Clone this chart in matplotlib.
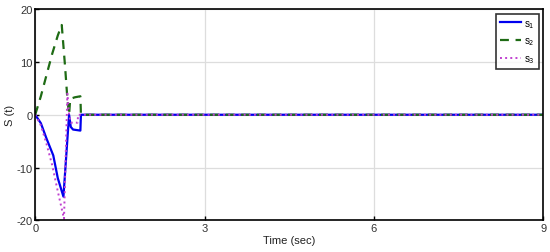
import matplotlib
matplotlib.use('Agg')
import matplotlib.pyplot as plt

plt.rcParams['font.family'] = ['Liberation Sans', 'DejaVu Sans']
plt.rcParams['axes.unicode_minus'] = False

# sliding surfaces
t_s1 = [0, 0.1, 0.2, 0.32, 0.4, 0.5, 0.6, 0.63, 0.67, 0.8, 0.81, 9]
s1 = [0, -1.6, -4.5, -7.7, -12.0, -15.5, 0, -2.3, -2.8, -3.0, 0, 0]

t_s2 = [0, 0.1, 0.2, 0.3, 0.4, 0.47, 0.53, 0.57, 0.6, 0.62, 0.7, 0.8, 0.81, 9]
s2 = [0, 3.5, 7.5, 11.5, 15.0, 17.0, 9.0, 3.0, 0, 3.0, 3.3, 3.5, 0, 0]

t_s3 = [0, 0.1, 0.2, 0.3, 0.4, 0.51, 0.57, 0.6, 0.63, 0.75, 0.76, 9]
s3 = [0, -2.0, -5.5, -9.5, -14.5, -19.7, 4.0, 0, -1.5, -1.5, 0, 0]

x_ticks = [0, 3, 6, 9]
y_ticks = [-20, -10, 0, 10, 20]

fig = plt.figure(figsize=(5.5, 2.53), dpi=100)
ax = fig.add_axes([0.064, 0.125, 0.924, 0.835])

ax.plot(t_s1, s1, color='#0000ee', lw=1.6, label='s$_1$')
ax.plot(t_s2, s2, color='#1e6b14', lw=1.6, ls=(0, (4, 3)), label='s$_2$')
ax.plot(t_s3, s3, color='#c040d0', lw=1.4, ls=':', label='s$_3$')

ax.set_xlim(0, 9)
ax.set_ylim(-20, 20)
ax.set_xticks(x_ticks)
ax.set_yticks(y_ticks)
ax.grid(True, color='#dddddd', lw=0.9)
ax.set_axisbelow(True)
ax.tick_params(direction='in', labelsize=8, length=3, width=1, pad=2,
               labelcolor='#333333', top=False, right=False)
for sp in ax.spines.values():
    sp.set_linewidth(1.2)
ax.set_xlabel('Time (sec)', fontsize=8, labelpad=1, color='#222222')
ax.set_ylabel('S (t)', fontsize=8, labelpad=1, color='#222222')

leg = ax.legend(loc='upper right', fontsize=7, frameon=True, fancybox=False,
                edgecolor='black', handlelength=2.2, handletextpad=0.3,
                borderpad=0.4, labelspacing=0.6, borderaxespad=0.5)
leg.get_frame().set_linewidth(1.2)

fig.savefig('out.png', dpi=100)
